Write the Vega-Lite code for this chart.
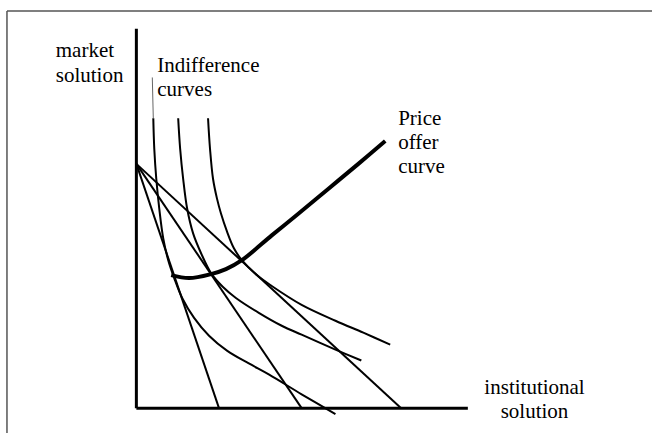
{
  "$schema": "https://vega.github.io/schema/vega-lite/v6.json",
  "width": 655,
  "height": 436,
  "padding": 0,
  "autosize": {"type": "fit", "contains": "padding"},
  "background": "white",
  "config": {"view": {"stroke": null}},
  "datasets": {
    "frame": [
      {"side": "top", "i": 0, "x": -130, "y": 400},
      {"side": "top", "i": 1, "x": 518, "y": 400},
      {"side": "left", "i": 0, "x": -130, "y": 400},
      {"side": "left", "i": 1, "x": -130, "y": -25}
    ],
    "axes": [
      {"axis": "market", "i": 0, "x": 0, "y": 382},
      {"axis": "market", "i": 1, "x": 0, "y": 0},
      {"axis": "institutional", "i": 0, "x": 0, "y": 0},
      {"axis": "institutional", "i": 1, "x": 333, "y": 0}
    ],
    "budget": [
      {"line": "B1", "i": 0, "x": 0, "y": 246}, {"line": "B1", "i": 1, "x": 83, "y": 0},
      {"line": "B2", "i": 0, "x": 0, "y": 246}, {"line": "B2", "i": 1, "x": 166, "y": 0},
      {"line": "B3", "i": 0, "x": 0, "y": 246}, {"line": "B3", "i": 1, "x": 266, "y": 0}
    ],
    "indifference": [
      {"curve": "U1", "i": 0, "x": 17, "y": 292}, {"curve": "U1", "i": 1, "x": 18, "y": 261},
      {"curve": "U1", "i": 2, "x": 20, "y": 231}, {"curve": "U1", "i": 3, "x": 23, "y": 201},
      {"curve": "U1", "i": 4, "x": 27, "y": 171}, {"curve": "U1", "i": 5, "x": 32, "y": 149},
      {"curve": "U1", "i": 6, "x": 38, "y": 131}, {"curve": "U1", "i": 7, "x": 46, "y": 111},
      {"curve": "U1", "i": 8, "x": 58, "y": 91}, {"curve": "U1", "i": 9, "x": 73, "y": 73},
      {"curve": "U1", "i": 10, "x": 91, "y": 58}, {"curve": "U1", "i": 11, "x": 113, "y": 45},
      {"curve": "U1", "i": 12, "x": 133, "y": 34}, {"curve": "U1", "i": 13, "x": 166, "y": 14},
      {"curve": "U1", "i": 14, "x": 200, "y": -6},
      {"curve": "U2", "i": 0, "x": 42, "y": 292}, {"curve": "U2", "i": 1, "x": 44, "y": 261},
      {"curve": "U2", "i": 2, "x": 47, "y": 231}, {"curve": "U2", "i": 3, "x": 51, "y": 201},
      {"curve": "U2", "i": 4, "x": 57, "y": 176}, {"curve": "U2", "i": 5, "x": 65, "y": 156},
      {"curve": "U2", "i": 6, "x": 75, "y": 136}, {"curve": "U2", "i": 7, "x": 87, "y": 122},
      {"curve": "U2", "i": 8, "x": 100, "y": 111}, {"curve": "U2", "i": 9, "x": 123, "y": 96},
      {"curve": "U2", "i": 10, "x": 146, "y": 83}, {"curve": "U2", "i": 11, "x": 166, "y": 74},
      {"curve": "U2", "i": 12, "x": 200, "y": 59}, {"curve": "U2", "i": 13, "x": 226, "y": 48},
      {"curve": "U3", "i": 0, "x": 72, "y": 292}, {"curve": "U3", "i": 1, "x": 74, "y": 261},
      {"curve": "U3", "i": 2, "x": 77, "y": 231}, {"curve": "U3", "i": 3, "x": 81, "y": 211},
      {"curve": "U3", "i": 4, "x": 85, "y": 196}, {"curve": "U3", "i": 5, "x": 91, "y": 178},
      {"curve": "U3", "i": 6, "x": 98, "y": 161}, {"curve": "U3", "i": 7, "x": 106, "y": 149},
      {"curve": "U3", "i": 8, "x": 121, "y": 134}, {"curve": "U3", "i": 9, "x": 136, "y": 123},
      {"curve": "U3", "i": 10, "x": 166, "y": 104}, {"curve": "U3", "i": 11, "x": 200, "y": 88},
      {"curve": "U3", "i": 12, "x": 228, "y": 76}, {"curve": "U3", "i": 13, "x": 255, "y": 64}
    ],
    "priceOffer": [
      {"i": 0, "x": 35, "y": 134}, {"i": 1, "x": 53, "y": 131}, {"i": 2, "x": 75, "y": 135},
      {"i": 3, "x": 90, "y": 140}, {"i": 4, "x": 106, "y": 149}, {"i": 5, "x": 136, "y": 174},
      {"i": 6, "x": 163, "y": 196}, {"i": 7, "x": 193, "y": 221}, {"i": 8, "x": 223, "y": 246},
      {"i": 9, "x": 250, "y": 269}
    ],
    "pointer": [
      {"i": 0, "x": 16, "y": 333}, {"i": 1, "x": 17, "y": 292}
    ],
    "labelsLeft": [
      {"label": "market", "x": -81, "y": 354},
      {"label": "solution", "x": -81, "y": 328},
      {"label": "Indifference", "x": 21, "y": 338},
      {"label": "curves", "x": 21, "y": 314},
      {"label": "Price", "x": 263, "y": 285},
      {"label": "offer", "x": 263, "y": 261},
      {"label": "curve", "x": 263, "y": 237}
    ],
    "labelsCenter": [
      {"label": "institutional", "x": 400, "y": 14},
      {"label": "solution", "x": 400, "y": -10}
    ]
  },
  "layer": [
    {
      "data": {"name": "frame"},
      "mark": {"type": "line", "color": "#555555", "strokeWidth": 1.5},
      "encoding": {
        "x": {"field": "x", "type": "quantitative", "scale": {"domain": [-137, 518], "nice": false, "zero": false}, "axis": null},
        "y": {"field": "y", "type": "quantitative", "scale": {"domain": [-25, 411], "nice": false, "zero": false}, "axis": null},
        "detail": {"field": "side"},
        "order": {"field": "i"}
      }
    },
    {
      "data": {"name": "axes"},
      "mark": {"type": "line", "color": "black", "strokeWidth": 3},
      "encoding": {
        "x": {"field": "x", "type": "quantitative"},
        "y": {"field": "y", "type": "quantitative"},
        "detail": {"field": "axis"},
        "order": {"field": "i"}
      }
    },
    {
      "data": {"name": "budget"},
      "mark": {"type": "line", "color": "black", "strokeWidth": 2},
      "encoding": {
        "x": {"field": "x", "type": "quantitative"},
        "y": {"field": "y", "type": "quantitative"},
        "detail": {"field": "line"},
        "order": {"field": "i"}
      }
    },
    {
      "data": {"name": "indifference"},
      "mark": {"type": "line", "color": "black", "strokeWidth": 2, "interpolate": "catmull-rom"},
      "encoding": {
        "x": {"field": "x", "type": "quantitative"},
        "y": {"field": "y", "type": "quantitative"},
        "detail": {"field": "curve"},
        "order": {"field": "i"}
      }
    },
    {
      "data": {"name": "priceOffer"},
      "mark": {"type": "line", "color": "black", "strokeWidth": 4, "interpolate": "catmull-rom"},
      "encoding": {
        "x": {"field": "x", "type": "quantitative"},
        "y": {"field": "y", "type": "quantitative"},
        "order": {"field": "i"}
      }
    },
    {
      "data": {"name": "pointer"},
      "mark": {"type": "line", "color": "#666666", "strokeWidth": 1},
      "encoding": {
        "x": {"field": "x", "type": "quantitative"},
        "y": {"field": "y", "type": "quantitative"},
        "order": {"field": "i"}
      }
    },
    {
      "data": {"name": "labelsLeft"},
      "mark": {"type": "text", "align": "left", "baseline": "alphabetic", "font": "Liberation Serif", "fontSize": 21, "color": "black"},
      "encoding": {
        "x": {"field": "x", "type": "quantitative"},
        "y": {"field": "y", "type": "quantitative"},
        "text": {"field": "label"}
      }
    },
    {
      "data": {"name": "labelsCenter"},
      "mark": {"type": "text", "align": "center", "baseline": "alphabetic", "font": "Liberation Serif", "fontSize": 21, "color": "black"},
      "encoding": {
        "x": {"field": "x", "type": "quantitative"},
        "y": {"field": "y", "type": "quantitative"},
        "text": {"field": "label"}
      }
    }
  ]
}
